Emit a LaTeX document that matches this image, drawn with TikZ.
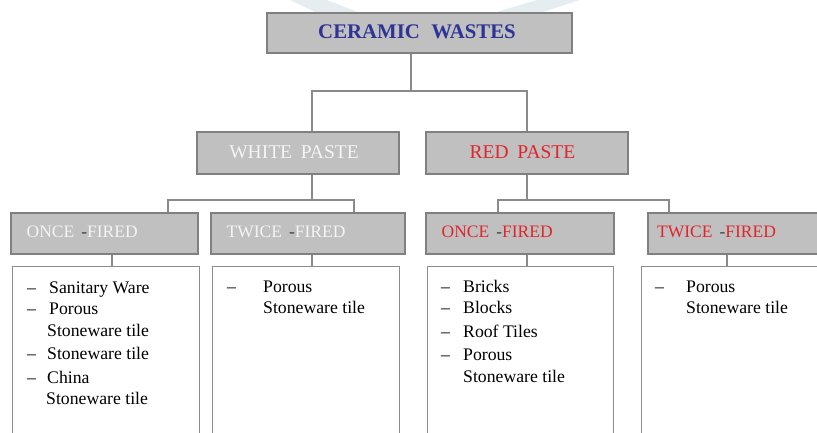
\documentclass[tikz,border=0pt]{standalone}
\usepackage{fontspec}
\setmainfont{Liberation Serif}
\definecolor{boxfill}{RGB}{192,192,192}
\definecolor{boxline}{RGB}{128,128,128}
\definecolor{connline}{RGB}{138,138,138}
\definecolor{headblue}{RGB}{46,52,150}
\definecolor{redtxt}{RGB}{226,36,44}
\definecolor{whitetxt}{RGB}{244,244,246}
\definecolor{wmark}{RGB}{230,237,241}
\tikzset{
  hbox/.style={draw=boxline, fill=boxfill, line width=1.5pt, inner sep=0pt, rectangle},
  cbox/.style={draw=boxline!90, fill=white, line width=1.4pt, inner sep=0pt, rectangle},
  conn/.style={draw=connline, line width=1.4pt},
  lbl/.style={inner sep=0pt, anchor=base west},
  item/.style={inner sep=0pt, anchor=base west, font=\fontsize{17.7}{20}\selectfont, text=black},
  lvthree/.style={inner sep=0pt, anchor=base west, font=\fontsize{17.5}{20}\selectfont},
}
\begin{document}
\begin{tikzpicture}[x=1pt,y=-1pt]
\useasboundingbox (0,0) rectangle (817,433);
\clip (0,0) rectangle (817,433);
% faint watermark
\fill[wmark] (290,0) -- (327,0) -- (360,13) -- (317,13) -- cycle;
\fill[wmark] (537,0) -- (580,0) -- (540,13) -- (493,13) -- cycle;

% level 1
\node[hbox, minimum width=305pt, minimum height=40pt] (cw) at (419.5,33) {};
\node[inner sep=0pt, anchor=base, text=headblue, font=\fontsize{20.8}{24}\selectfont\bfseries] (cwt) at (417,39) {CERAMIC\hspace{0.55em}WASTES};

% level 2
\node[hbox, minimum width=202pt, minimum height=42pt] (wp) at (298,153) {};
\node[hbox, minimum width=202pt, minimum height=42pt] (rp) at (527,153) {};
\node[inner sep=0pt, anchor=base, text=whitetxt, font=\fontsize{19.5}{22}\selectfont] (wpt) at (294,159) {WHITE\hspace{0.45em}PASTE};
\node[inner sep=0pt, anchor=base, text=redtxt, font=\fontsize{19.5}{22}\selectfont] (rpt) at (522.5,159) {RED\hspace{0.45em}PASTE};

% level 3
\node[hbox, minimum width=187pt, minimum height=41pt] (wo) at (104.5,233.5) {};
\node[hbox, minimum width=194pt, minimum height=41pt] (wt) at (308,233.5) {};
\node[hbox, minimum width=188pt, minimum height=41pt] (ro) at (520,233.5) {};
\node[hbox, minimum width=194pt, minimum height=41pt] (rt) at (745,233.5) {};
\node[lvthree, text=whitetxt] (wot) at (26.5,237) {ONCE\hspace{0.4em}{\color{black!75}-}FIRED};
\node[lvthree, text=whitetxt] (wtt) at (226.5,237) {TWICE\hspace{0.4em}{\color{black!75}-}FIRED};
\node[lvthree, text=redtxt] (rot) at (441.5,237) {ONCE\hspace{0.4em}{\color{black!75}-}FIRED};
\node[lvthree, text=redtxt] (rtt) at (657,237) {TWICE\hspace{0.4em}{\color{black!75}-}FIRED};

% content boxes
\node[cbox, minimum width=187pt, minimum height=200pt, anchor=north west] (wc1) at (12,266) {};
\node[cbox, minimum width=187pt, minimum height=200pt, anchor=north west] (wc2) at (212,266) {};
\node[cbox, minimum width=186pt, minimum height=200pt, anchor=north west] (rc1) at (427,266) {};
\node[cbox, minimum width=200pt, minimum height=200pt, anchor=north west] (rc2) at (641,266) {};

% connectors
\coordinate (j1) at (411,91);
\coordinate (jw) at (312,91);
\coordinate (jr) at (527,91);
\draw[conn] (cw.south -| j1) -- (j1);
\draw[conn] (wp.north -| jw) -- (jw) -- (jr) -- (rp.north -| jr);

\coordinate (jwb) at (312,200);
\coordinate (jwo) at (168,200);
\coordinate (jwt) at (354,200);
\draw[conn] (wp.south -| jwb) -- (jwb);
\draw[conn] (wo.north -| jwo) -- (jwo) -- (jwt) -- (wt.north -| jwt);

\coordinate (jrb) at (527,200);
\coordinate (jro) at (498,200);
\coordinate (jrt) at (669,200);
\draw[conn] (rp.south -| jrb) -- (jrb);
\draw[conn] (ro.north -| jro) -- (jro) -- (jrt) -- (rt.north -| jrt);

\coordinate (k1) at (112,0);
\coordinate (k2) at (312,0);
\coordinate (k3) at (527,0);
\coordinate (k4) at (727,0);
\draw[conn] (wo.south -| k1) -- (wc1.north -| k1);
\draw[conn] (wt.south -| k2) -- (wc2.north -| k2);
\draw[conn] (ro.south -| k3) -- (rc1.north -| k3);
\draw[conn] (rt.south -| k4) -- (rc2.north -| k4);

% content: white once-fired
\node[item] (a1d) at (27,293) {–};
\node[item] (a1) at (49,293) {Sanitary Ware};
\node[item] (a2d) at (27,314) {–};
\node[item] (a2) at (49,314) {Porous};
\node[item] (a2b) at (47,336) {Stoneware tile};
\node[item] (a3d) at (27,359) {–};
\node[item] (a3) at (47,359) {Stoneware tile};
\node[item] (a4d) at (27,383) {–};
\node[item] (a4) at (47,383) {China};
\node[item] (a4b) at (46,404) {Stoneware tile};

% content: white twice-fired
\node[item] (b1d) at (227,292) {–};
\node[item] (b1) at (263,292) {Porous};
\node[item] (b1b) at (263,313) {Stoneware tile};

% content: red once-fired
\node[item] (c1d) at (441,292) {–};
\node[item] (c1) at (463,292) {Bricks};
\node[item] (c2d) at (441,313) {–};
\node[item] (c2) at (463,313) {Blocks};
\node[item] (c3d) at (441,337) {–};
\node[item] (c3) at (463,337) {Roof Tiles};
\node[item] (c4d) at (441,360) {–};
\node[item] (c4) at (463,360) {Porous};
\node[item] (c4b) at (463,382) {Stoneware tile};

% content: red twice-fired
\node[item] (d1d) at (655,292) {–};
\node[item] (d1) at (686,292) {Porous};
\node[item] (d1b) at (686,313) {Stoneware tile};
\end{tikzpicture}
\end{document}
